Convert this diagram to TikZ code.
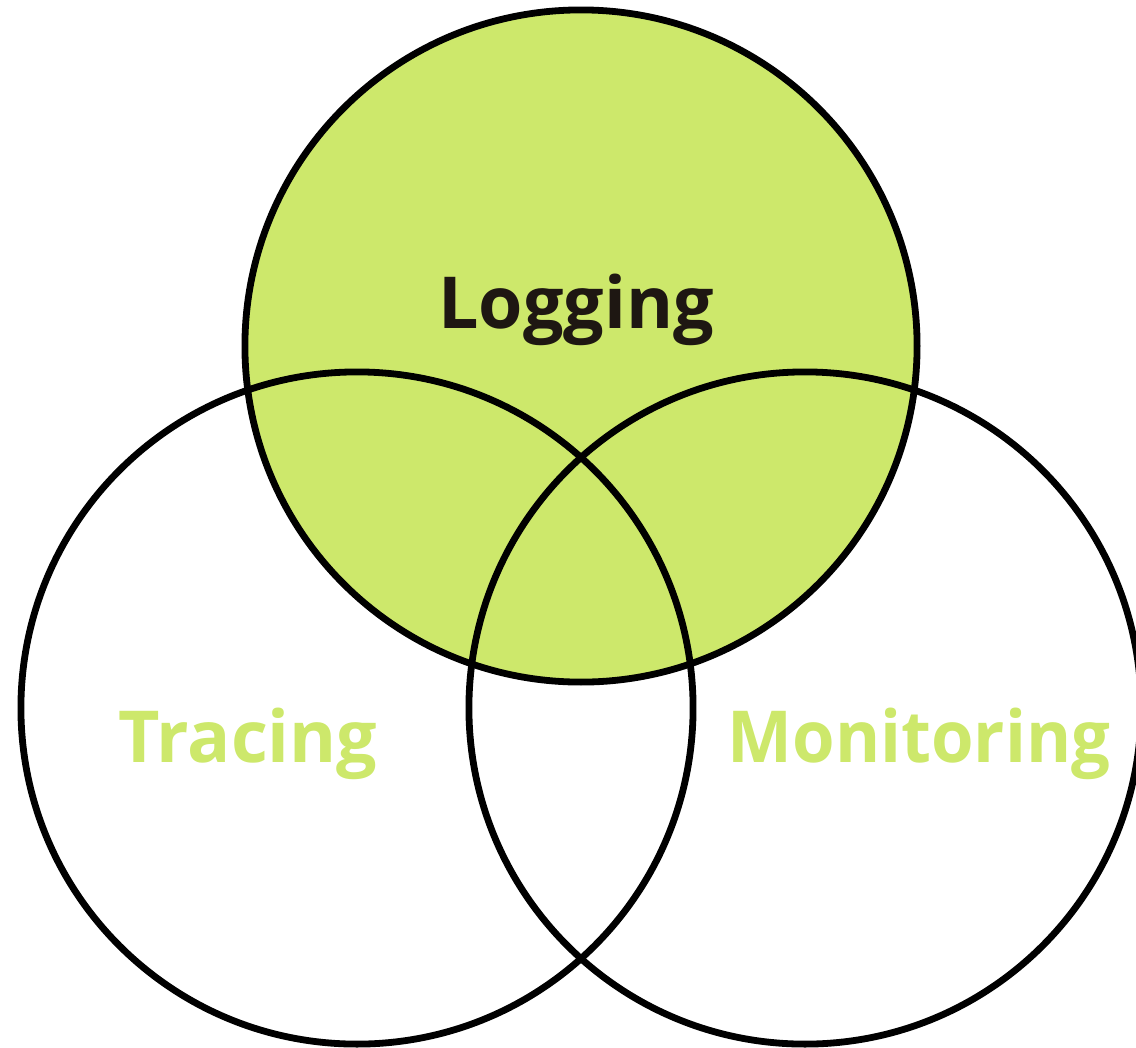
\documentclass[tikz,border=0pt]{standalone}
\usepackage{fontspec}
\setmainfont{Open Sans}
\usetikzlibrary{positioning}
\definecolor{lime}{HTML}{CDE86B}
\definecolor{ink}{HTML}{1E1712}
\tikzset{
    ring/.style={circle,draw=black,line width=0.17cm,minimum size=16.8cm,inner sep=0pt},
    word/.style={anchor=base,font=\bfseries\fontsize{51}{60}\selectfont,inner sep=0pt},
}

\begin{document}
\begin{tikzpicture}[x=0.025cm,y=-0.025cm]
    \useasboundingbox (0,0) rectangle (1136,1047);
    \node[ring,fill=lime] (log) at (581,346) {};
    \node[ring] (trc) at (357,708) {};
    \node[ring] (mon) at (805,708) {};
    \node[word,text=ink] (logtxt) at (576,328) {Logging};
    \node[word,text=lime] (trctxt) at (248,762) {Tracing};
    \node[word,text=lime,xscale=0.96] (montxt) at (919,762) {Monitoring};
\end{tikzpicture}
\end{document}
